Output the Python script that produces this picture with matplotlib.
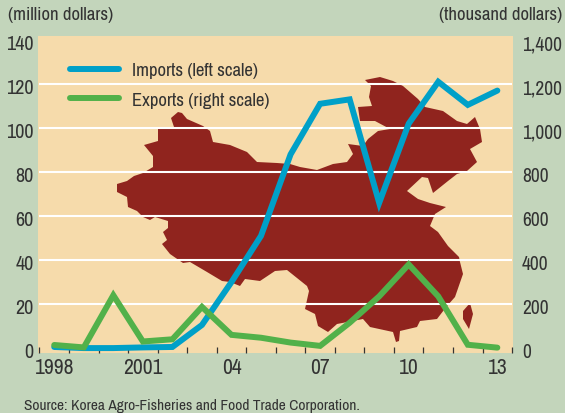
import numpy as np
import matplotlib
matplotlib.use("Agg")
import matplotlib.pyplot as plt
from matplotlib.patches import Polygon
from matplotlib.transforms import Affine2D, ScaledTranslation

years = list(range(1998, 2014))
imports_m = [0.5, 0, 0, 0.3, 0.5, 10.5, 30, 51, 88, 111, 113, 66, 102, 121, 110.5, 117]
exports_k = [14, 3, 240, 30, 40, 187, 60, 47, 25, 10, 115, 235, 380, 235, 15, 2]
left_ticks = [0, 20, 40, 60, 80, 100, 120, 140]
right_ticks = [0, 200, 400, 600, 800, 1000, 1200, 1400]
right_labels = ["0", "200", "400", "600", "800", "1,000", "1,200", "1,400"]
grid_values = [20, 40, 60, 80, 100, 120]
year_tick_pos = [1998, 2001, 2004, 2007, 2010, 2013]
year_labels = ["1998", "2001", "04", "07", "10", "13"]

# Decorative map silhouette (background image, traced in figure pixels)
mainland_outline = [
    (178,113),(182,114),(187,120),(203,127),(210,132),(213,143),(230,146),(247,153),(257,163),
    (277,164),(290,165),(300,168),(317,171),(333,165),(347,163),(353,155),(348,145),(363,147),
    (368,140),(378,132),(390,130),(375,122),(360,122),(358,108),(372,107),(369,98),(371,87),
    (365,81),(380,78),(393,82),(403,87),(418,100),(425,108),(443,112),(457,122),(467,125),
    (475,118),(480,130),(482,143),(470,150),(477,163),(467,172),(457,175),(448,182),(433,194),
    (428,179),(422,178),(407,192),(418,200),(430,204),(446,208),(435,215),(430,227),(438,233),
    (448,247),(459,258),(460,263),(463,275),(455,298),(447,307),(437,320),(420,322),(417,328),
    (400,332),(399,342),(396,343),(393,333),(370,328),(363,320),(337,325),(328,333),(318,327),
    (315,315),(305,310),(309,292),(307,287),(287,271),(275,272),(260,282),(245,280),(240,287),
    (230,283),(222,282),(207,273),(190,263),(183,264),(170,255),(162,245),(167,241),(163,233),
    (168,229),(168,222),(155,218),(150,221),(143,218),(137,212),(128,208),(127,198),(117,193),
    (117,185),(127,182),(134,177),(143,174),(153,168),(153,157),(144,146),(158,142),(158,130),
    (174,128),(171,119),
]
taiwan_outline = [(470,304),(463,312),(463,320),(469,330),(473,315)]

W, H = 565, 414
BG = "#C3D5BB"
PANEL = "#F6DBAB"
MAP = "#90241E"
BLUE = "#00A0C8"
GREEN = "#52B14A"
TEXT = "#333333"

plt.rcParams["font.family"] = ["Archivo Narrow", "Liberation Sans", "DejaVu Sans"]

fig = plt.figure(figsize=(W / 100, H / 100), dpi=100, facecolor=BG)
ax = fig.add_axes([38 / W, 1 - 353.7 / H, 475 / W, 316.7 / H], facecolor=PANEL)
ax.set_xlim(1997.45, 2013.53)
ax.set_ylim(-2.1, 141.8)

pix = Affine2D().scale(1 / W, -1 / H).translate(0, 1) + fig.transFigure
for outline in (mainland_outline, taiwan_outline):
    ax.add_patch(Polygon(outline, closed=True, facecolor=MAP, edgecolor="none",
                         transform=pix, zorder=1))

ax.hlines(grid_values, 1997.5, 2013.5, color="white", lw=1.5, zorder=2)

l1, = ax.plot(years, imports_m, color=BLUE, lw=4.3, solid_capstyle="round",
              solid_joinstyle="miter", zorder=3, label="Imports (left scale)")

ax2 = ax.twinx()
ax2.set_ylim(-21, 1418)
ax2.patch.set_visible(False)
l2, = ax2.plot(years, exports_k, color=GREEN, lw=4.3, solid_capstyle="round",
               solid_joinstyle="miter", zorder=4, label="Exports (right scale)")

for a in (ax, ax2):
    for s in a.spines.values():
        s.set_visible(False)

ax.set_yticks(left_ticks)
ax.tick_params(axis="y", length=0, pad=3, labelsize=14.5, labelcolor=TEXT)
ax2.set_yticks(right_ticks)
ax2.set_yticklabels(right_labels)
ax2.tick_params(axis="y", length=0, pad=6.5, labelsize=14, labelcolor=TEXT)

nudge = ScaledTranslation(0, -1.2 / 72, fig.dpi_scale_trans)
for a in (ax, ax2):
    for lab in a.get_yticklabels():
        lab.set_transform(lab.get_transform() + nudge)

ax.set_xticks(year_tick_pos)
ax.set_xticklabels(year_labels)
ax.set_xticks(np.arange(years[0] - 0.5, years[-1] + 1), minor=True)
ax.tick_params(axis="x", which="major", length=0, pad=3, labelsize=15.5, labelcolor=TEXT)
ax.tick_params(axis="x", which="minor", direction="in", length=4, width=0.9, color=TEXT)

leg = ax2.legend(handles=[l1, l2], loc="upper left", bbox_to_anchor=(0.067, 0.917),
                 frameon=False, fontsize=13.5, handlelength=2.6, handletextpad=0.7,
                 labelspacing=0.72, borderpad=0, borderaxespad=0, labelcolor=TEXT)

fig.text(8 / W, 1 - 15 / H, "(million dollars)", fontsize=13.5, color=TEXT, va="center", ha="left")
fig.text(562 / W, 1 - 15 / H, "(thousand dollars)", fontsize=13.5, color=TEXT, va="center", ha="right")
fig.text(24 / W, 1 - 406 / H, "Source: Korea Agro-Fisheries and Food Trade Corporation.",
         fontsize=11.1, color=TEXT, va="center", ha="left")

fig.savefig("out.png", dpi=100, facecolor=BG)
